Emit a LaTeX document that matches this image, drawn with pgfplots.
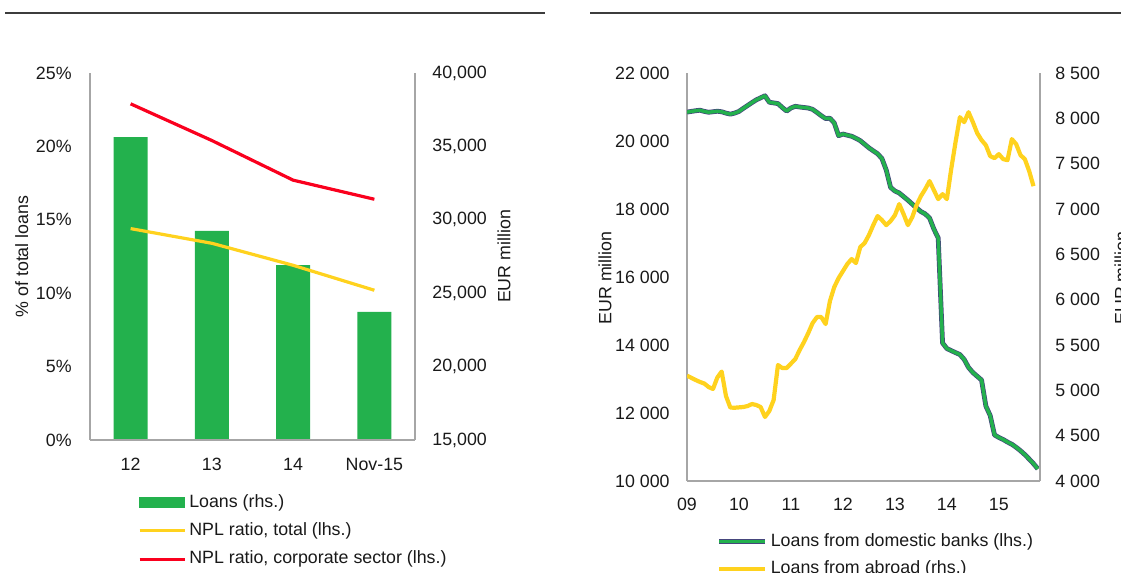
\documentclass[border=0pt]{standalone}
\usepackage{fontspec}
\setmainfont{Liberation Sans}
\usepackage{pgfplots}
\usepackage{pgfplotstable}
\pgfplotsset{compat=1.18}

\definecolor{barGreen}{RGB}{35,177,77}
\definecolor{nplYellow}{RGB}{255,210,30}
\definecolor{nplRed}{RGB}{250,0,30}
\definecolor{axisGray}{RGB}{166,166,166}
\definecolor{ruleGray}{RGB}{60,60,60}
\definecolor{lineEdge}{RGB}{70,70,125}
\definecolor{txt}{RGB}{25,25,25}

% Loans of non-financial corporations, monthly (m = months since Jan 2009)
\pgfplotstableread{
m dom
0 20850
1 20870
2 20890
3 20905
4 20870
5 20845
6 20860
7 20875
8 20860
9 20820
10 20790
11 20820
12 20870
13 20960
14 21045
15 21130
16 21210
17 21270
18 21330
19 21140
20 21120
21 21100
22 20985
23 20880
24 20970
25 21020
26 21000
27 20985
28 20970
29 20930
30 20840
31 20745
32 20660
33 20670
34 20530
35 20155
36 20205
37 20170
38 20140
39 20080
40 20010
41 19905
42 19800
43 19710
44 19625
45 19485
46 19145
47 18635
48 18530
49 18470
50 18365
51 18260
52 18145
53 18030
54 17925
55 17855
56 17735
57 17410
58 17145
59 14060
60 13895
61 13835
62 13775
63 13720
64 13575
65 13340
66 13190
67 13080
68 12970
69 12205
70 11925
71 11355
72 11280
73 11220
74 11145
75 11080
76 10990
77 10890
78 10775
79 10645
80 10510
81 10355
}\domtable

\pgfplotstableread{
m abr
0 5162
1 5138
2 5114
3 5092
4 5075
5 5036
6 5015
7 5141
8 5207
9 4937
10 4810
11 4808
12 4812
13 4816
14 4827
15 4849
16 4838
17 4816
18 4706
19 4772
20 4893
21 5279
22 5246
23 5246
24 5295
25 5345
26 5444
27 5532
28 5632
29 5742
30 5808
31 5808
32 5731
33 5985
34 6139
35 6238
36 6315
37 6392
38 6448
39 6404
40 6580
41 6624
42 6712
43 6822
44 6922
45 6878
46 6822
47 6867
48 6932
49 7054
50 6944
51 6822
52 6910
53 7043
54 7142
55 7219
56 7308
57 7208
58 7109
59 7164
60 7109
61 7440
62 7738
63 8013
64 7958
65 8068
66 7958
67 7837
68 7760
69 7704
70 7583
71 7561
72 7605
73 7550
74 7539
75 7771
76 7715
77 7594
78 7550
79 7418
80 7252
}\abrtable

\pgfplotsset{
  panel/.style={
    scale only axis,
    axis line style={-, axisGray, line width=0.75pt},
    tick style={draw=none},
    scaled ticks=false,
    every tick label/.append style={text=txt},
    label style={text=txt},
  },
  leftticks/.style={yticklabel style={anchor=east, inner xsep=0pt, xshift=-#1}},
  rightticks/.style={yticklabel style={anchor=west, inner xsep=0pt, xshift=#1}},
  linelegend/.style={legend image code/.code={\draw[##1] (0pt,0pt) -- (#1,0pt);}},
  barlegend/.style={legend image code/.code={\fill[barGreen] (0pt,-2.5pt) rectangle (22.5pt,2.5pt);}},
  edgelegend/.style={legend image code/.code={%
      \draw[lineEdge, line width=2.4pt] (0pt,0pt) -- (23pt,0pt);
      \draw[barGreen, line width=1.7pt] (0pt,0pt) -- (23pt,0pt);}},
  mylegend/.style={legend cell align=left,
    legend style={draw=none, fill=none, inner sep=0pt, outer sep=0pt,
      row sep=#1, column sep=1.5pt, text=txt,
      nodes={inner sep=0pt, text height=6.6pt, text depth=1.9pt}}},
}

\begin{document}
\begin{tikzpicture}[font=\fontsize{8.9}{10.5}\selectfont]
\path[use as bounding box] (0,0) rectangle (560.5pt,286.5pt);
\clip (0,0) rectangle (560.5pt,286.5pt);

\draw[ruleGray, line width=1pt] (2.5pt,280pt) -- (272.5pt,280pt);
\draw[ruleGray, line width=1pt] (295pt,280pt) -- (560.5pt,280pt);

% ---- Left panel: loans (right axis) ----
\begin{axis}[panel,
  at={(45pt,66.5pt)}, anchor=south west,
  width=162.5pt, height=183.5pt,
  xmin=-0.5, xmax=3.5, ymin=15000, ymax=40000,
  axis x line=none, axis y line*=right,
  ytick={15000,20000,25000,30000,35000,40000},
  yticklabels={{15,000},{20,000},{25,000},{30,000},{35,000},{40,000}},
  rightticks=8.5pt,
  ylabel={EUR million},
  ylabel style={at={(axis description cs:1.274,0.5)}, anchor=center},
]
\addplot[ybar, bar width=17pt, bar shift=0pt, fill=barGreen, draw=none]
  coordinates {(0,35640) (1,29240) (2,26920) (3,23720)};
\end{axis}

% ---- Left panel: NPL ratios (left axis) ----
\begin{axis}[panel,
  at={(45pt,66.5pt)}, anchor=south west,
  width=162.5pt, height=183.5pt,
  xmin=-0.5, xmax=3.5, ymin=0, ymax=25,
  axis x line*=bottom, axis y line*=left,
  xtick={0,1,2,3}, xticklabels={12,13,14,Nov-15},
  xticklabel style={anchor=north, inner ysep=0pt, yshift=-9pt},
  ytick={0,5,10,15,20,25},
  yticklabels={0\%,5\%,10\%,15\%,20\%,25\%},
  leftticks=9pt,
  ylabel={\% of total loans},
  ylabel style={at={(axis description cs:-0.21,0.5)}, anchor=center},
  linelegend=22.5pt,
  mylegend=5.7pt,
  legend style={at={(axis description cs:0.148,-0.147)}, anchor=north west},
]
\addlegendimage{barlegend}
\addlegendentry{Loans (rhs.)}
\addplot[nplYellow, line width=1.6pt] coordinates {(0,14.4) (1,13.4) (2,11.9) (3,10.2)};
\addlegendentry{NPL ratio, total (lhs.)}
\addplot[nplRed, line width=1.6pt] coordinates {(0,22.9) (1,20.4) (2,17.7) (3,16.4)};
\addlegendentry{NPL ratio, corporate sector (lhs.)}
\end{axis}

% ---- Right panel: loans from domestic banks (left axis) ----
\begin{axis}[panel,
  at={(343.5pt,46pt)}, anchor=south west,
  width=176.5pt, height=204pt,
  xmin=0, xmax=81.5, ymin=10000, ymax=22000,
  axis x line*=bottom, axis y line*=left,
  xtick={0,12,24,36,48,60,72}, xticklabels={09,10,11,12,13,14,15},
  xticklabel style={anchor=north, inner ysep=0pt, yshift=-8.5pt},
  ytick={10000,12000,14000,16000,18000,20000,22000},
  yticklabels={10 000,12 000,14 000,16 000,18 000,20 000,22 000},
  leftticks=8.5pt,
  ylabel={EUR million},
  ylabel style={at={(axis description cs:-0.232,0.4975)}, anchor=center},
]
\addplot[lineEdge, line width=2.4pt, line join=round] table[x=m, y=dom] {\domtable};
\addplot[barGreen, line width=1.7pt, line join=round] table[x=m, y=dom] {\domtable};
\end{axis}

% ---- Right panel: loans from abroad (right axis) ----
\begin{axis}[panel,
  at={(343.5pt,46pt)}, anchor=south west,
  width=176.5pt, height=204pt,
  xmin=0, xmax=81.5, ymin=4000, ymax=8500,
  axis x line=none, axis y line*=right,
  ytick={4000,4500,5000,5500,6000,6500,7000,7500,8000,8500},
  yticklabels={4 000,4 500,5 000,5 500,6 000,6 500,7 000,7 500,8 000,8 500},
  rightticks=7.5pt,
  ylabel={EUR million},
  ylabel style={at={(axis description cs:1.2295,0.4975)}, anchor=center},
  linelegend=23pt,
  mylegend=5.2pt,
  legend style={at={(axis description cs:0.085,-0.128)}, anchor=north west},
]
\addlegendimage{edgelegend}
\addlegendentry{Loans from domestic banks (lhs.)}
\addplot[nplYellow, line width=2.1pt, line join=round] table[x=m, y=abr] {\abrtable};
\addlegendentry{Loans from abroad (rhs.)}
\end{axis}
\end{tikzpicture}
\end{document}
